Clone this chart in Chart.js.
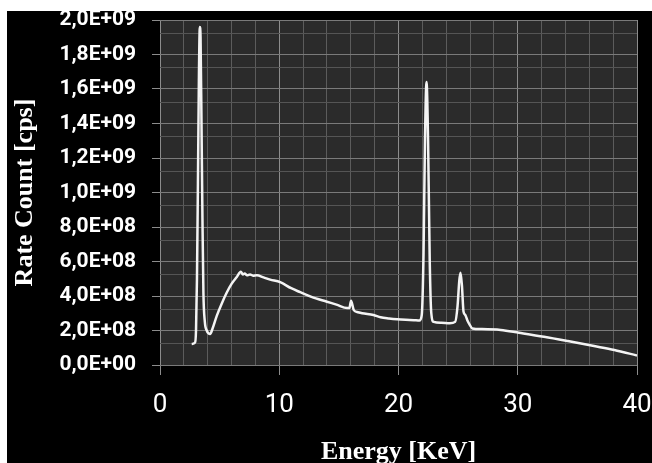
<!DOCTYPE html>
<html><head><meta charset="utf-8">
<script src="https://cdn.jsdelivr.net/npm/chart.js@4"></script>
<style>
html,body{margin:0;padding:0;background:#fff;width:652px;height:463px;overflow:hidden}
#wrap{position:absolute;left:7px;top:11px;width:645px;height:452px;background:#000}
</style></head><body>
<div id="wrap"><canvas id="c"></canvas></div>
<script>
// Energy [KeV]
const energy = [2.66,2.94,3.02,3.10,3.18,3.26,3.34,3.40,3.48,3.56,3.64,3.76,3.92,4.08,4.20,4.40,4.76,5.20,5.60,6.00,6.44,6.78,6.95,7.10,7.30,7.55,7.80,8.12,8.68,9.24,10.08,11.0,11.76,12.7,14.0,14.8,15.7,15.88,16.02,16.25,16.6,16.95,17.9,18.5,19.2,19.9,20.6,21.3,21.75,21.95,22.1,22.22,22.35,22.48,22.62,22.75,22.95,23.6,24.3,24.75,24.95,25.1,25.2,25.32,25.45,25.6,25.77,26.0,26.19,27.0,28.57,30.1,32.2,34.2,36.4,38.1,40.0];
// Rate Count [cps]
const rateCount = [1.22e8,1.30e8,2.0e8,5.0e8,1.05e9,1.65e9,1.96e9,1.9e9,1.4e9,8.5e8,4.2e8,2.5e8,2.0e8,1.82e8,1.8e8,2.1e8,2.85e8,3.6e8,4.2e8,4.7e8,5.1e8,5.4e8,5.25e8,5.3e8,5.2e8,5.25e8,5.18e8,5.2e8,5.08e8,4.95e8,4.8e8,4.45e8,4.22e8,3.95e8,3.67e8,3.5e8,3.3e8,3.3e8,3.72e8,3.18e8,3.06e8,3.0e8,2.9e8,2.77e8,2.7e8,2.65e8,2.62e8,2.6e8,2.58e8,2.9e8,6.5e8,1.3e9,1.64e9,1.3e9,6.0e8,3.0e8,2.5e8,2.45e8,2.42e8,2.5e8,3.4e8,4.9e8,5.35e8,4.6e8,3.1e8,2.9e8,2.6e8,2.3e8,2.12e8,2.08e8,2.03e8,1.87e8,1.64e8,1.39e8,1.1e8,8.7e7,5.5e7];
const xTickLabels = [0,10,20,30,40];
const yTickValues = [0,2e8,4e8,6e8,8e8,1e9,1.2e9,1.4e9,1.6e9,1.8e9,2e9];
const yMinorTicks = [1.23e8,3.23e8,5.23e8,7.23e8,9.23e8,1.123e9,1.323e9,1.523e9,1.723e9,1.923e9];

function fmtExp(v){
  const s = Number(v).toExponential(1);
  const [m,e] = s.split('e');
  const sign = e[0] === '-' ? '-' : '+';
  const ex = Math.abs(parseInt(e,10)).toString().padStart(2,'0');
  return m.replace('.', ',') + 'E' + sign + ex;
}
const isYMajor = v => yTickValues.some(t => Math.abs(t - v) < 1);
const isXMajor = v => xTickLabels.includes(v);

const bgPlugin = {
  id:'plotbg',
  beforeDraw(chart){
    const {ctx, chartArea:a} = chart;
    ctx.save();
    ctx.fillStyle = '#2b2b2b';
    ctx.fillRect(a.left, a.top, a.right - a.left, a.bottom - a.top);
    ctx.restore();
  }
};

new Chart(document.getElementById('c'), {
  type:'line',
  data:{
    datasets:[{
      data: energy.map((e,i)=>({x:e, y:rateCount[i]})),
      borderColor:'#f4f4f4',
      borderWidth:2.5,
      pointRadius:0,
      cubicInterpolationMode:'monotone',
      fill:false
    }]
  },
  options:{
    responsive:true,
    maintainAspectRatio:false,
    animation:false,
    layout:{padding:{left:0,right:15,top:9,bottom:0}},
    plugins:{legend:{display:false}, tooltip:{enabled:false}},
    scales:{
      x:{
        type:'linear', min:0, max:40,
        border:{display:false},
        grid:{
          color: c => isXMajor(c.tick.value) ? '#8c8c8c' : '#5c5c5c',
          tickColor: c => isXMajor(c.tick.value) ? '#8c8c8c' : 'rgba(0,0,0,0)',
          tickLength:10, lineWidth:1
        },
        ticks:{
          stepSize:2, autoSkip:false, maxRotation:0, minRotation:0,
          color:'#ffffff', padding:15,
          font:{family:'Roboto', size:26},
          callback: v => isXMajor(v) ? String(v) : ''
        },
        title:{
          display:true, text:'Energy [KeV]', color:'#ffffff',
          font:{family:'Liberation Serif', weight:'bold', size:26, lineHeight:0.84},
          padding:{top:0,bottom:0}
        },
        afterFit(s){ s.height = 98; s.paddingLeft = 0; s.paddingRight = 0; }
      },
      y:{
        type:'linear', min:0, max:2e9,
        border:{display:false},
        afterBuildTicks(s){
          s.ticks = yTickValues.concat(yMinorTicks).sort((a,b)=>a-b).map(v=>({value:v}));
        },
        grid:{
          color: c => isYMajor(c.tick.value) ? '#7a7a7a' : '#555555',
          tickColor: c => isYMajor(c.tick.value) ? '#8c8c8c' : 'rgba(0,0,0,0)',
          tickLength:8, lineWidth:1
        },
        ticks:{
          autoSkip:false, color:'#ffffff', padding:16,
          font:{family:'Roboto', weight:'bold', size:21},
          callback: v => isYMajor(v) ? fmtExp(v) : ''
        },
        title:{
          display:true, text:'Rate Count [cps]', color:'#ffffff',
          font:{family:'Liberation Serif', weight:'bold', size:26, lineHeight:0.84},
          padding:{top:7,bottom:0}
        },
        afterFit(s){ s.width = 153; s.paddingTop = 0; s.paddingBottom = 0; }
      }
    }
  },
  plugins:[bgPlugin]
});
</script>
</body></html>
